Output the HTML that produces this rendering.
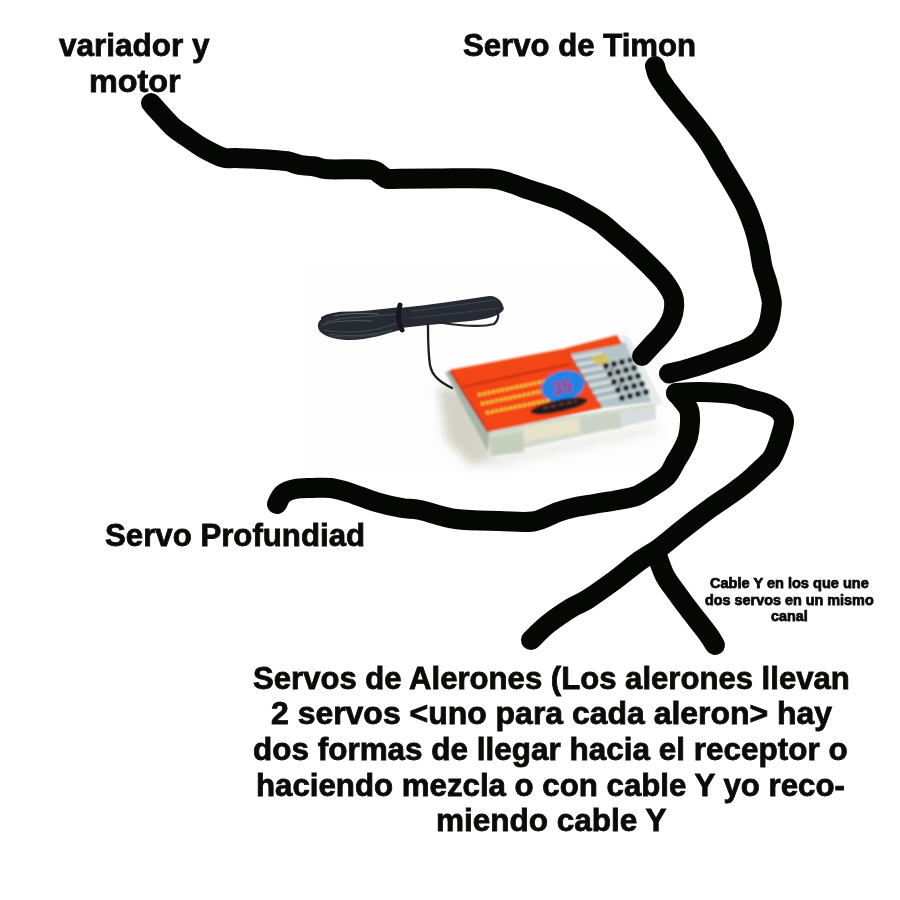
<!DOCTYPE html>
<html><head><meta charset="utf-8">
<style>
html,body{margin:0;padding:0;background:#fff;width:900px;height:900px;overflow:hidden}
body{position:relative;font-family:"Liberation Sans",sans-serif;font-weight:bold;color:#0b0c0a}
.t{position:absolute;white-space:nowrap;line-height:1;transform-origin:0 0;-webkit-text-stroke:0.8px #0b0c0a}
.b{font-size:31px}
.s{font-size:14px;-webkit-text-stroke:0.75px #0b0c0a}
svg{position:absolute;left:0;top:0}
</style></head><body>
<svg width="900" height="900" viewBox="0 0 900 900">
<defs>
<filter id="bl1" x="-20%" y="-20%" width="140%" height="140%"><feGaussianBlur stdDeviation="0.9"/></filter>
<filter id="bl3" x="-50%" y="-50%" width="200%" height="200%"><feGaussianBlur stdDeviation="5"/></filter>
<filter id="bl05" x="-10%" y="-30%" width="120%" height="160%"><feGaussianBlur stdDeviation="0.6"/></filter>
</defs>
<g id="photo">
<rect id="pbg" x="304" y="264" width="364" height="210" fill="#fdfdfd"/>
<!-- shadow -->
<path d="M438,386 L468,392 L494,458 L472,466 L446,440 Z" fill="#b4b09a" opacity="0.55" filter="url(#bl3)"/>
<path d="M482,458 L655,424 L660,432 L490,468 Z" fill="#d8d8d0" opacity="0.45" filter="url(#bl3)"/>
<g filter="url(#bl1)">
<!-- transparent bottom side -->
<path d="M484,429 L655,403 L656,419 L491,456 Z" fill="#d3dacd"/>
<path d="M489,438 L522,432 L524,452 L492,456 Z" fill="#c4d0bc"/>
<path d="M523,427 L578,418 L580,432 L525,441 Z" fill="#e8e2c8"/>
<path d="M580,418 L620,412 L622,428 L582,434 Z" fill="#cbd3c6"/>
<path d="M620,412 L653,407 L655,419 L622,427 Z" fill="#d8dee0"/>
<!-- left side transparent -->
<path d="M445,372 L451,370 L489,432 L488,452 Z" fill="#a8b6aa"/>
<!-- right side transparent -->
<path d="M620,334 L629,337 L663,404 L655,406 Z" fill="#e6eaec"/>
<!-- pins area -->
<path d="M568,350 L625,342 L652,402 L602,408 Z" fill="#b6c4c8"/>
<!-- orange face -->
<path d="M450,370 L568,350 L602,408 L488,432 Z" fill="#f44412"/>
<!-- top orange strip over pins -->
<path d="M566,348 L617,335 L622,344 L571,354 Z" fill="#ef4a16"/>
<path d="M450,370 L568,348 L571,354 L452,374 Z" fill="#f04a16"/>
<!-- divider line -->
<path d="M462,387 L570,364" stroke="#b42a10" stroke-width="1.6"/>
<!-- left dark edge -->
<path d="M450,371 L488,432" stroke="#a82a10" stroke-width="1.5"/>
<!-- label right edge -->
<path d="M568,352 L602,408" stroke="#c03414" stroke-width="1.2"/>
<!-- yellow text lines -->
<g stroke="#f2c63a" stroke-width="3.4" stroke-dasharray="3.5 1.2">
<path d="M478,395 L546,381"/>
<path d="M481,404 L548,390"/>
<path d="M486,413 L550,400"/>
</g>
<!-- blue circle -->
<ellipse cx="563" cy="386" rx="22" ry="15" transform="rotate(-15 563 386)" fill="#2082e6"/>
<text x="552" y="393" font-family="Liberation Sans" font-weight="bold" font-size="18" fill="#c2205c" transform="rotate(-12 563 386)">35</text>
<!-- black logo -->
<ellipse cx="559" cy="406" rx="29" ry="6" transform="rotate(-12 559 406)" fill="#1c1a1a"/>
<path d="M543,408 L577,401" stroke="#7a3a3a" stroke-width="2.2" stroke-dasharray="5 3"/>
<!-- silver pins stripes -->
<g stroke="#e6eef0" stroke-width="1.6">
<path d="M573,358 L602,353"/><path d="M577,365 L605,360"/><path d="M581,372 L608,367"/><path d="M585,379 L611,374"/><path d="M589,386 L614,381"/><path d="M593,393 L617,388"/><path d="M597,400 L620,395"/>
</g>
<g stroke="#7d8e96" stroke-width="1">
<path d="M573,361 L602,356"/><path d="M577,368 L605,363"/><path d="M581,375 L608,370"/><path d="M585,382 L611,377"/><path d="M589,389 L614,384"/><path d="M593,396 L617,391"/>
</g>
<path d="M590,357 L604,353 L610,362 L598,366 Z" fill="#d8c050" opacity="0.85"/>
<!-- dark pins -->
<g fill="#1a1c1c">
<circle cx="606" cy="366" r="3"/><circle cx="614" cy="364" r="3"/><circle cx="622" cy="362" r="3"/><circle cx="630" cy="360" r="2.6"/>
<circle cx="610" cy="374" r="3"/><circle cx="618" cy="372" r="3"/><circle cx="626" cy="370" r="3"/><circle cx="634" cy="368" r="3"/>
<circle cx="614" cy="382" r="3"/><circle cx="622" cy="380" r="3"/><circle cx="630" cy="378" r="3"/><circle cx="638" cy="376" r="3"/>
<circle cx="618" cy="390" r="3"/><circle cx="626" cy="388" r="3"/><circle cx="634" cy="386" r="3"/><circle cx="642" cy="384" r="3"/>
<circle cx="622" cy="398" r="3"/><circle cx="630" cy="396" r="3"/><circle cx="638" cy="394" r="3"/><circle cx="646" cy="392" r="3"/>
</g>
<g fill="#6a2a5a" opacity="0.7"><circle cx="612" cy="369" r="1.5"/><circle cx="620" cy="385" r="1.5"/></g>
</g>
<!-- antenna coil -->
<g filter="url(#bl05)">
<path d="M318,327 C317,320 324,316 334,314 C350,311 372,311 400,307 L403,329 C386,334 368,340 350,340 C333,340 319,335 318,327 Z" fill="#262b30"/>
<path d="M399,308 C430,305 460,300 489,296 C497,295 503,302 504,309 C500,316 488,319 470,321 C450,323 425,325 401,328 Z" fill="#262b30"/>
<g fill="none" stroke-linecap="round">
<path d="M436,322 C455,325 480,328 494,324 C499,320 499,314 497,311" stroke="#20252a" stroke-width="2.2"/>
<path d="M452,388 C440,382 432,376 430,365 C428,352 428,340 428,325" stroke="#1c1f22" stroke-width="2.3"/>
<path d="M322,318 C330,313 345,312 360,313" stroke="#20252a" stroke-width="2.2"/>
<path d="M326,322 C342,317 370,317 398,314" stroke="#535b62" stroke-width="1" opacity="0.7"/>
<path d="M324,330 C345,334 372,333 398,323" stroke="#535b62" stroke-width="1" opacity="0.7"/>
<path d="M330,336 C345,338 365,337 380,334" stroke="#535b62" stroke-width="0.8" opacity="0.6"/>
<path d="M412,311 C440,308 470,303 495,300" stroke="#535b62" stroke-width="1" opacity="0.6"/>
<path d="M412,318 C440,315 470,312 499,308" stroke="#535b62" stroke-width="1" opacity="0.5"/>
<path d="M400,305 C397,314 398,322 402,330" stroke="#15181a" stroke-width="5"/>
<path d="M334,316 C345,313 362,313 378,314" stroke="#8a9298" stroke-width="1" opacity="0.6"/>
<path d="M322,325 C332,321 350,320 372,321" stroke="#7a8288" stroke-width="1" opacity="0.5"/>
<path d="M330,334 C350,337 370,336 392,330" stroke="#6a7278" stroke-width="1" opacity="0.5"/>
</g>
</g>
</g>

</svg>
<div class="t b" id="l1" style="left:59.20px;top:29.60px;transform:scaleX(1.0161)">variador y</div>
<div class="t b" id="l2" style="left:88.72px;top:65.50px;transform:scaleX(1.0442)">motor</div>
<div class="t b" id="l3" style="left:463.38px;top:29.50px;transform:scaleX(1.0048)">Servo de Timon</div>
<div class="t b" id="l4" style="left:104.99px;top:519.60px;transform:scaleX(1.0066)">Servo Profundiad</div>
<div class="t s" id="l5" style="left:709.98px;top:576.20px;transform:scaleX(1.0395)">Cable Y en los que une</div>
<div class="t s" id="l6" style="left:704.99px;top:592.90px;transform:scaleX(1.0276)">dos servos en un mismo</div>
<div class="t s" id="l7" style="left:771.00px;top:609.30px;transform:scaleX(1.0286)">canal</div>
<div class="t b" id="l8" style="left:253.00px;top:662.50px;transform:scaleX(1.0030)">Servos de Alerones (Los alerones llevan</div>
<div class="t b" id="l9" style="left:271.18px;top:698.30px;transform:scaleX(1.0305)">2 servos &lt;uno para cada aleron&gt; hay</div>
<div class="t b" id="l10" style="left:253.37px;top:733.80px;transform:scaleX(1.0151)">dos formas de llegar hacia el receptor o</div>
<div class="t b" id="l11" style="left:256.18px;top:769.60px;transform:scaleX(1.0074)">haciendo mezcla o con cable Y yo reco-</div>
<div class="t b" id="l12" style="left:435.76px;top:805.30px;transform:scaleX(1.0165)">miendo cable Y</div>
<svg width="900" height="900" viewBox="0 0 900 900">
<g fill="none" stroke="#050705" stroke-width="20" stroke-linecap="round" stroke-linejoin="round">
<path d="M151.0,103.0 C152.2,104.3 154.3,107.0 158.0,111.0 C161.7,115.0 168.3,122.8 173.0,127.0 C177.7,131.2 181.0,133.0 186.0,136.5 C191.0,140.0 196.8,144.5 203.0,148.0 C209.2,151.5 217.5,155.8 223.0,157.5 C228.5,159.2 228.5,157.7 236.0,158.0 C243.5,158.3 259.5,158.9 268.0,159.4 C276.5,159.9 281.7,160.3 287.0,161.2 C292.3,162.1 295.3,164.1 300.0,165.0 C304.7,165.9 310.3,165.8 315.0,166.5 C319.7,167.2 318.8,168.8 328.0,169.3 C337.2,169.8 361.2,168.7 370.0,169.6 C378.8,170.5 378.2,173.5 381.0,175.0 C383.8,176.5 383.8,178.2 387.0,178.8 C390.2,179.4 391.2,178.9 400.0,178.8 C408.8,178.8 425.0,178.6 440.0,178.5 C455.0,178.4 478.3,177.8 490.0,178.5 C501.7,179.2 503.3,181.1 510.0,183.0 C516.7,184.9 521.7,187.2 530.0,190.0 C538.3,192.8 551.7,196.7 560.0,200.0 C568.3,203.3 573.3,206.3 580.0,210.0 C586.7,213.7 593.7,217.5 600.0,222.0 C606.3,226.5 612.8,232.7 618.0,237.0 C623.2,241.3 625.7,243.2 631.0,248.0 C636.3,252.8 644.5,260.5 650.0,266.0 C655.5,271.5 660.2,276.0 664.0,281.0 C667.8,286.0 671.3,291.5 673.0,296.0 C674.7,300.5 674.3,304.0 674.0,308.0 C673.7,312.0 672.8,315.8 671.0,320.0 C669.2,324.2 666.2,328.8 663.0,333.0 C659.8,337.2 655.5,341.2 652.0,345.0 C648.5,348.8 643.7,354.2 642.0,356.0"/>
<path d="M655.0,66.0 C655.6,67.8 656.3,72.7 658.4,76.7 C660.5,80.7 663.7,84.9 667.5,90.0 C671.3,95.1 676.4,101.5 681.0,107.3 C685.6,113.1 690.6,118.7 695.3,124.7 C700.0,130.7 704.8,136.9 709.0,143.3 C713.2,149.7 716.4,156.0 720.7,163.3 C725.0,170.6 731.0,180.1 735.0,187.0 C739.0,193.9 741.8,198.2 745.0,205.0 C748.2,211.8 751.7,221.0 754.0,228.0 C756.3,235.0 757.6,240.5 759.0,247.0 C760.4,253.5 761.1,261.0 762.5,267.0 C763.9,273.0 766.0,277.5 767.5,283.0 C769.0,288.5 770.8,296.0 771.5,300.0 C772.2,304.0 771.8,303.7 771.5,307.0 C771.2,310.3 770.4,316.2 769.5,320.0 C768.6,323.8 767.8,326.6 766.0,330.0 C764.2,333.4 761.9,337.6 759.0,340.5 C756.1,343.4 752.5,345.4 748.5,347.5 C744.5,349.6 739.2,351.4 735.0,353.0 C730.8,354.6 728.0,355.2 723.0,357.0 C718.0,358.8 711.0,361.5 705.0,363.5 C699.0,365.5 693.0,367.3 687.0,369.0 C681.0,370.7 672.0,372.8 669.0,373.5"/>
<path d="M676.0,393.0 C677.2,394.3 680.8,398.2 683.0,401.0 C685.2,403.8 687.8,406.5 689.0,410.0 C690.2,413.5 690.2,417.5 690.0,422.0 C689.8,426.5 689.2,432.3 688.0,437.0 C686.8,441.7 684.5,446.0 682.5,450.0 C680.5,454.0 678.6,456.7 676.0,461.0 C673.4,465.3 671.2,471.6 667.0,476.0 C662.8,480.4 656.2,484.2 651.0,487.5 C645.8,490.8 642.0,493.8 636.0,496.0 C630.0,498.2 622.0,499.2 615.0,500.5 C608.0,501.8 600.8,502.8 594.0,504.0 C587.2,505.2 580.0,506.2 574.0,507.5 C568.0,508.8 564.8,509.7 558.0,512.0 C551.2,514.3 542.7,520.0 533.0,521.5 C523.3,523.0 512.8,521.4 500.0,521.0 C487.2,520.6 469.3,520.8 456.0,519.0 C442.7,517.2 429.0,511.8 420.0,510.0 C411.0,508.2 409.3,509.3 402.0,508.0 C394.7,506.7 384.8,504.6 376.0,502.0 C367.2,499.4 356.5,494.8 349.0,492.5 C341.5,490.2 337.0,488.8 331.0,488.0 C325.0,487.2 319.0,487.8 313.0,488.0 C307.0,488.2 300.0,488.0 295.0,489.0 C290.0,490.0 286.0,491.5 283.0,494.0 C280.0,496.5 278.0,502.3 277.0,504.0"/>
<path d="M676.0,393.0 C680.0,392.8 690.5,391.8 700.0,392.0 C709.5,392.2 725.0,392.9 733.0,394.0 C741.0,395.1 743.2,397.2 748.0,398.5 C752.8,399.8 758.0,400.8 762.0,402.0 C766.0,403.2 769.0,404.4 772.0,406.0 C775.0,407.6 778.0,409.0 780.0,411.5 C782.0,414.0 783.8,417.1 784.0,421.0 C784.2,424.9 782.2,430.7 781.0,435.0 C779.8,439.3 778.6,443.1 777.0,447.0 C775.4,450.9 774.3,454.7 771.5,458.5 C768.7,462.3 763.9,466.2 760.0,470.0 C756.1,473.8 752.8,477.0 748.0,481.0 C743.2,485.0 737.2,489.5 731.0,494.0 C724.8,498.5 718.7,502.0 710.5,508.0 C702.3,514.0 690.2,523.3 681.7,530.0 C673.2,536.7 666.5,542.8 659.4,548.0 C652.3,553.2 646.8,555.7 639.4,561.0 C632.0,566.3 623.6,573.7 615.0,580.0 C606.4,586.3 595.3,594.3 588.0,599.0 C580.7,603.7 577.7,603.8 571.0,608.0 C564.3,612.2 554.7,618.7 548.0,624.0 C541.3,629.3 533.8,637.3 531.0,640.0"/>
<path d="M656.0,552.0 C657.4,555.8 661.2,568.3 664.5,575.0 C667.8,581.7 671.9,586.2 676.0,592.0 C680.1,597.8 683.7,602.5 689.0,609.5 C694.3,616.5 703.7,628.1 708.0,634.0 C712.3,639.9 713.8,643.2 715.0,645.0"/>
</g>
</svg>
</body></html>
